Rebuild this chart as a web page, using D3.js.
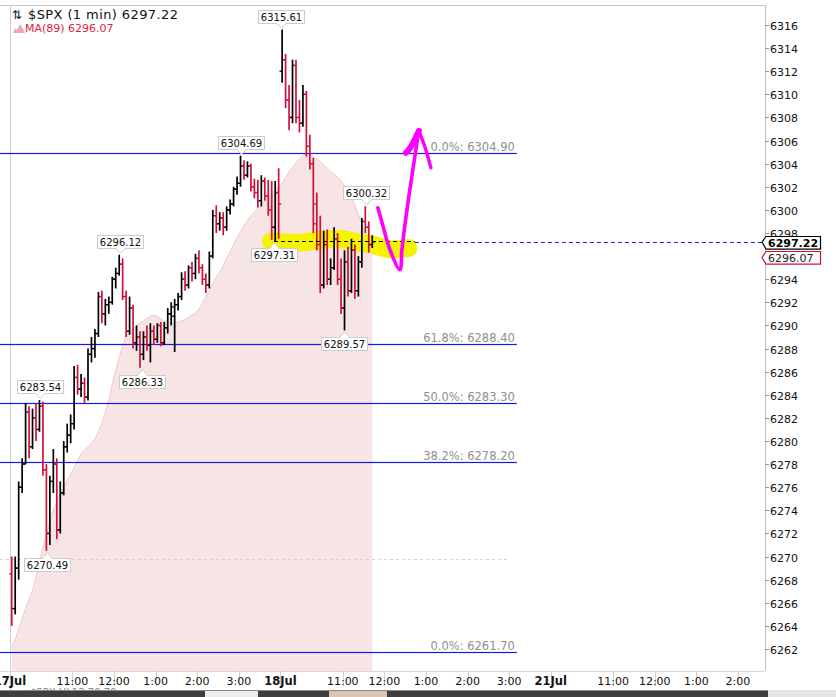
<!DOCTYPE html>
<html><head><meta charset="utf-8">
<script src="https://cdn.jsdelivr.net/npm/d3@7"></script>
<style>body{margin:0;background:#fff;overflow:hidden} svg{display:block}</style>
</head><body><svg id="c" width="836" height="697"></svg>
<script>
// ---------------- DATA ----------------
const symbol = "$SPX (1 min) 6297.22";
const maLegend = "MA(89) 6296.07";
const lastPrice = 6297.22;
const maLast = 6296.07;
const barMinutes = 5; // bars of 5 minutes, index * 5 = minutes after 17 Jul 9:30 (sessions of 390 min)
const opens = [6268.5,6265.5,6269.0,6276.0,6278.0,6282.5,6279.5,6282.0,6281.0,6283.0,
6277.5,6272.0,6276.5,6278.0,6272.3,6275.5,6279.5,6280.5,6281.5,6285.5,
6284.5,6285.0,6283.8,6287.5,6288.0,6289.3,6292.5,6291.0,6291.8,6292.0,
6294.0,6294.5,6295.3,6292.5,6289.5,6291.5,6288.5,6289.0,6287.5,6289.0,
6288.3,6289.5,6288.8,6290.0,6288.5,6289.8,6291.0,6290.8,6291.8,6292.5,
6294.0,6293.5,6295.0,6294.5,6295.8,6295.0,6294.0,6293.5,6296.0,6299.5,
6298.8,6299.3,6298.5,6300.0,6300.5,6301.8,6302.3,6303.8,6303.0,6303.8,
6302.0,6301.5,6300.8,6302.5,6301.2,6300.0,6298.5,6301.5,
6312.0,6313.0,6309.5,6308.0,6312.5,6308.0,6307.5,6310.0,6305.5,6304.0,
6300.5,6297.0,6293.5,6297.0,6294.0,6295.0,6297.5,6294.0,6291.5,6295.5,
6293.0,6296.5,6293.0,6295.5,6299.0,6298.5,6297.0];
const highs = [6270.0,6270.0,6276.5,6278.5,6283.3,6283.0,6282.8,6283.2,6283.54,6283.4,
6278.0,6277.0,6279.3,6278.5,6276.5,6280.0,6281.5,6282.3,6286.5,6286.6,
6285.8,6285.5,6288.0,6289.0,6289.7,6292.9,6293.0,6292.3,6292.5,6294.2,
6295.0,6296.12,6295.8,6293.0,6292.5,6291.8,6290.0,6289.5,6289.5,6290.0,
6290.2,6290.0,6290.2,6290.3,6290.3,6291.5,6292.0,6292.3,6292.8,6294.6,
6294.7,6295.2,6295.5,6296.2,6296.5,6295.3,6294.5,6296.4,6300.0,6300.4,
6299.8,6299.8,6300.3,6300.9,6302.0,6302.9,6304.69,6304.3,6304.2,6304.0,
6302.7,6302.6,6303.0,6302.8,6302.6,6302.5,6302.5,6303.6,
6315.61,6313.5,6310.8,6313.0,6313.0,6309.5,6310.8,6310.3,6306.5,6304.5,
6301.5,6299.5,6298.2,6298.3,6295.8,6298.5,6298.0,6295.8,6296.5,6296.8,
6297.5,6297.0,6296.0,6299.3,6300.32,6299.0,6297.8];
const lows = [6264.0,6265.0,6268.0,6275.5,6278.0,6278.5,6279.3,6280.0,6280.8,6277.0,
6270.49,6271.0,6275.5,6271.5,6272.0,6275.3,6279.0,6279.8,6281.0,6284.0,
6283.8,6283.3,6283.5,6286.8,6287.2,6289.0,6290.2,6290.0,6291.0,6291.8,
6293.2,6294.3,6292.2,6289.0,6289.2,6288.0,6287.8,6286.33,6287.0,6287.8,
6286.8,6288.3,6288.5,6288.2,6288.3,6289.3,6290.0,6287.7,6291.3,6292.2,
6293.0,6293.2,6293.8,6294.0,6294.5,6293.5,6292.8,6293.2,6295.8,6298.0,
6298.2,6297.8,6298.2,6299.6,6300.3,6301.3,6302.0,6302.6,6302.8,6301.6,
6301.0,6300.2,6300.3,6300.8,6299.5,6297.4,6297.31,6297.5,
6311.0,6308.8,6306.9,6307.5,6307.5,6306.7,6307.2,6304.6,6303.5,6298.0,
6296.5,6292.8,6293.2,6293.5,6293.5,6294.8,6293.5,6291.0,6289.57,6292.5,
6292.8,6292.3,6292.5,6295.0,6298.0,6296.3,6296.7];
const closes = [6265.5,6269.0,6276.0,6278.0,6282.5,6279.5,6282.0,6281.0,6283.0,6277.5,
6272.0,6276.5,6278.0,6272.3,6275.5,6279.5,6280.5,6281.5,6285.5,6284.5,
6285.0,6283.8,6287.5,6288.0,6289.3,6292.5,6291.0,6291.8,6292.0,6294.0,
6294.5,6295.3,6292.5,6289.5,6291.5,6288.5,6289.0,6287.5,6289.0,6288.3,
6289.5,6288.8,6290.0,6288.5,6289.8,6291.0,6291.6,6291.8,6292.5,6294.0,
6293.5,6295.0,6294.5,6295.8,6295.0,6294.0,6293.5,6296.0,6299.5,6298.8,
6299.3,6298.5,6300.0,6300.5,6301.8,6302.3,6303.8,6303.0,6303.8,6302.0,
6301.5,6300.8,6302.5,6301.2,6300.0,6298.5,6301.5,6300.5,
6313.0,6309.5,6308.0,6312.5,6308.0,6307.5,6310.0,6305.5,6304.0,6298.8,
6297.0,6293.5,6297.0,6294.0,6295.0,6297.5,6294.0,6291.5,6295.5,6293.0,
6296.5,6293.0,6295.5,6299.0,6298.5,6297.0,6297.22];
const maValues = [6262.2,6262.8,6263.7,6264.6,6265.5,6266.3,6267.1,6268.2,6269.5,6270.8,
6271.9,6273.0,6274.0,6274.8,6275.4,6276.0,6276.6,6277.1,6277.7,6278.3,
6278.9,6279.2,6279.5,6279.8,6280.2,6280.8,6281.5,6282.5,6283.6,6284.9,
6286.1,6287.2,6288.3,6289.0,6289.4,6289.7,6290.0,6290.2,6290.4,6290.6,
6290.8,6290.9,6290.8,6290.6,6290.4,6290.3,6290.2,6290.2,6290.3,6290.4,
6290.5,6290.7,6290.9,6291.1,6291.4,6291.9,6292.5,6293.0,6293.6,6294.2,
6294.6,6295.2,6295.8,6296.4,6297.0,6297.6,6298.1,6298.6,6299.1,6299.5,
6299.8,6300.1,6300.4,6300.8,6301.1,6301.4,6301.7,6302.0,
6302.3,6302.8,6303.3,6303.7,6304.1,6304.4,6304.7,6304.9,6304.8,6304.6,
6304.4,6304.2,6303.9,6303.6,6303.3,6303.1,6302.8,6302.5,6302.1,6301.7,
6301.1,6300.4,6299.6,6298.8,6297.9,6297.0,6296.07];

const fibLevels = [6304.90, 6288.40, 6283.30, 6278.20, 6261.70];
const fibNames = ["0.0%", "61.8%", "50.0%", "38.2%", "0.0%"];
const fibEndMinute = 731;
const greyLevel = 6269.8, greyEndMinute = 721;

const markerMinutes = [43.3, 53.4, 158.6, 190.3, 333.1, 380.7, 390.8, 481.6, 513.3];
const markerPrices  = [6283.54, 6270.49, 6296.12, 6286.33, 6304.69, 6297.31, 6315.61, 6289.57, 6300.32];
const markerAbove   = [true, false, true, false, true, false, true, false, true];

const userLine = {price: 6297.31, from: 380.7, to: 584};

const yTickValues = [6262,6264,6266,6268,6270,6272,6274,6276,6278,6280,6282,6284,6286,6288,
  6290,6292,6294,6296,6298,6300,6302,6304,6306,6308,6310,6312,6314,6316];
const dayLabels = ["17Jul", "18Jul", "21Jul"];
const sessionMinutes = 390;
const hourLabels = ["11:00", "12:00", "1:00", "2:00", "3:00"];
const hourOffsets = [90, 150, 210, 270, 330];

// hand-drawn annotations, in [minute, price]
const yellowStroke = [[376.4,6297.25],[418.2,6297.16],[444.1,6297.37],[473.0,6297.50],[497.5,6297.24],[522.0,6297.0],[548.0,6296.60],[574.5,6296.70]];
const magentaMain = [[530.6,6300.18],[537.9,6298.63],[548.0,6296.55],[562.4,6294.82],[565.3,6296.55],[571.0,6299.32],[578.2,6302.34],[585.4,6305.20],[589.8,6306.84]];
const magentaLeft = [[589.8,6306.84],[578.2,6305.46],[571.0,6304.94]];
const magentaRight = [[589.8,6306.84],[598.4,6305.46],[607.1,6303.64]];

// ---------------- CHART ----------------
const svg = d3.select("#c");
const plotLeft = 10, plotRight = 765, plotTop = 5, plotBottom = 671;
const x = d3.scaleLinear().domain([0, 1089]).range([plotLeft, plotRight]);
const y = d3.scaleLinear().domain([6262, 6316]).range([649, 25]);
const RED = "#d0103a";
const DV = "DejaVu Sans, Verdana, sans-serif";

svg.append("rect").attr("width",836).attr("height",697).attr("fill","#fff");

// borders
svg.append("line").attr("x1",0).attr("x2",plotRight).attr("y1",plotTop+0.5).attr("y2",plotTop+0.5).attr("stroke","#c8c8c8");
svg.append("line").attr("x1",plotLeft+0.5).attr("x2",plotLeft+0.5).attr("y1",plotTop).attr("y2",691).attr("stroke","#d0d0d0");
svg.append("line").attr("x1",plotRight+0.5).attr("x2",plotRight+0.5).attr("y1",plotTop).attr("y2",plotBottom).attr("stroke","#c0c0c0");
svg.append("line").attr("x1",0).attr("x2",plotRight).attr("y1",plotBottom+0.5).attr("y2",plotBottom+0.5).attr("stroke","#d8d8d8");

// MA area
const maIdx = d3.range(maValues.length);
svg.append("path").datum(maIdx)
  .attr("d", d3.area().x(k => x(k*barMinutes+2.5)).y0(plotBottom).y1(k => y(maValues[k])))
  .attr("fill","#f7e4e4");
svg.append("path").datum(maIdx)
  .attr("d", d3.line().x(k => x(k*barMinutes+2.5)).y(k => y(maValues[k])))
  .attr("fill","none").attr("stroke","#f0caca").attr("stroke-width",1);

// fib lines
fibLevels.forEach((v,i) => {
  const yy = Math.round(y(v)) + 0.5;
  svg.append("rect").attr("x",0).attr("width",x(fibEndMinute)).attr("y",yy-0.6).attr("height",1.2)
    .attr("fill","#1818e8");
  svg.append("text").attr("x",x(fibEndMinute)-2).attr("y",yy-3).attr("text-anchor","end")
    .attr("font-family",DV).attr("font-size",11.5).attr("fill","#8f8f8f")
    .text(fibNames[i] + ": " + v.toFixed(2));
});
// grey dashed
svg.append("line").attr("x1",0).attr("x2",x(greyEndMinute)).attr("y1",Math.round(y(greyLevel))+0.5).attr("y2",Math.round(y(greyLevel))+0.5)
  .attr("stroke","#d4d4d4").attr("stroke-dasharray","3,3");

// yellow highlight
svg.append("path").datum(yellowStroke)
  .attr("d", d3.line().x(d=>x(d[0])).y(d=>y(d[1])).curve(d3.curveCatmullRom))
  .attr("fill","none").attr("stroke","#f4f400").attr("stroke-width",18)
  .attr("stroke-linecap","round").attr("stroke-linejoin","round");

// bars
const bars = opens.map((o,k)=>({m:k*barMinutes+2.5, o, h:highs[k], l:lows[k], c:closes[k]}));
const gb = svg.append("g");
bars.forEach(b => {
  const col = b.c >= b.o ? "#000" : RED;
  const cx = x(b.m);
  gb.append("line").attr("x1",cx).attr("x2",cx).attr("y1",y(b.h)).attr("y2",y(b.l)).attr("stroke",col).attr("stroke-width",1.7);
  gb.append("line").attr("x1",cx-2.6).attr("x2",cx).attr("y1",y(b.o)).attr("y2",y(b.o)).attr("stroke",col).attr("stroke-width",1.3);
  gb.append("line").attr("x1",cx).attr("x2",cx+2.6).attr("y1",y(b.c)).attr("y2",y(b.c)).attr("stroke",col).attr("stroke-width",1.3);
});

// user horizontal (black dashed) and last price line (blue dashed)
svg.append("line").attr("x1",x(userLine.from)).attr("x2",x(userLine.to))
  .attr("y1",Math.round(y(userLine.price))+0.5).attr("y2",Math.round(y(userLine.price))+0.5)
  .attr("stroke","#000").attr("stroke-dasharray","4,3");
svg.append("line").attr("x1",x(userLine.to)).attr("x2",plotRight-3)
  .attr("y1",Math.round(y(lastPrice))+0.5).attr("y2",Math.round(y(lastPrice))+0.5)
  .attr("stroke","#1a1aff").attr("stroke-dasharray","4,3");

// magenta hand-drawn arrow
const mline = d3.line().x(d=>x(d[0])).y(d=>y(d[1])).curve(d3.curveCatmullRom);
svg.append("path").datum(magentaMain).attr("d",mline).attr("fill","none").attr("stroke","#ff00ff")
  .attr("stroke-width",3.6).attr("stroke-linecap","round").attr("stroke-linejoin","round");
svg.append("path").datum(magentaLeft).attr("d",mline).attr("fill","none").attr("stroke","#ff00ff")
  .attr("stroke-width",6).attr("stroke-linecap","round").attr("stroke-linejoin","round");
svg.append("path").datum(magentaRight).attr("d",mline).attr("fill","none").attr("stroke","#ff00ff")
  .attr("stroke-width",3.4).attr("stroke-linecap","round").attr("stroke-linejoin","round");

// high/low markers
markerPrices.forEach((p,i) => {
  const cx = Math.round(x(markerMinutes[i])), py = y(p), up = markerAbove[i];
  const bw = 46, bh = 13;
  const by = up ? py - 7 - bh : py + 7;
  const g = svg.append("g");
  g.append("rect").attr("x",cx-bw/2+0.5).attr("y",Math.round(by)+0.5).attr("width",bw).attr("height",bh)
    .attr("fill","#fff").attr("stroke","#cccccc");
  const ty = up ? Math.round(by)+bh+0.5 : Math.round(by)+0.5;
  const tip = up ? py-1.5 : py+1.5;
  g.append("path").attr("d",`M${cx-4.5},${ty}L${cx+0.5},${tip}L${cx+5.5},${ty}`)
    .attr("fill","#fff").attr("stroke","#cccccc");
  g.append("line").attr("x1",cx-3.5).attr("x2",cx+4.5).attr("y1",ty).attr("y2",ty).attr("stroke","#fff").attr("stroke-width",1.2);
  g.append("text").attr("x",cx+0.5).attr("y",Math.round(by)+10.5).attr("text-anchor","middle")
    .attr("font-family",DV).attr("font-size",10).attr("fill","#111").text(p.toFixed(2));
});

// title / legend
svg.append("text").attr("x",12).attr("y",19).attr("font-family",DV).attr("font-size",12).attr("fill","#111").text("⇅");
svg.append("text").attr("x",28).attr("y",19).attr("font-family",DV).attr("font-size",13).attr("letter-spacing",0.4)
  .attr("fill","#111").text(symbol);
svg.append("path").attr("d","M13,33L15,28L17,30L20,24L23,29L25,33Z").attr("fill","#f2a6b4");
svg.append("text").attr("x",25).attr("y",32).attr("font-family",DV).attr("font-size",11)
  .attr("fill","#dc1e46").text(maLegend);

// right axis
const ya = svg.append("g");
yTickValues.forEach(v => {
  const yy = Math.round(y(v)) + 0.5;
  ya.append("line").attr("x1",plotRight).attr("x2",plotRight+4).attr("y1",yy).attr("y2",yy).attr("stroke","#999");
  ya.append("text").attr("x",plotRight+5).attr("y",yy+4).attr("font-family",DV).attr("font-size",11)
    .attr("fill","#111").text(v);
});
// price tags
function tag(cy, txt, stroke, bold, tcol){
  const t = Math.round(cy - 6.4)+0.5, b = t + 12.6;
  svg.append("path").attr("d",`M${plotRight-3},${cy}L${plotRight+1},${t}L820.5,${t}L820.5,${b}L${plotRight+1},${b}Z`)
    .attr("fill","#fff").attr("stroke",stroke).attr("stroke-width",1.2);
  svg.append("text").attr("x",plotRight+3).attr("y",b-2.2).attr("font-family",DV).attr("font-size",11)
    .attr("font-weight",bold?"bold":"normal").attr("fill",tcol).text(txt);
}
const py0 = y(lastPrice);
tag(py0, lastPrice.toFixed(2), "#000", true, "#000");
const pyMa = Math.max(y(maLast), py0 + 15.5);
tag(pyMa, maLast.toFixed(2), RED, false, "#222");

// x axis
const xa = svg.append("g");
dayLabels.forEach((d,di) => {
  const base = di*sessionMinutes;
  const dx = x(base);
  xa.append("line").attr("x1",Math.round(dx)+0.5).attr("x2",Math.round(dx)+0.5).attr("y1",plotBottom).attr("y2",plotBottom+15).attr("stroke","#d0d0d0");
  xa.append("text").attr("x",dx).attr("y",685).attr("text-anchor","middle").attr("font-family",DV)
    .attr("font-size",11.5).attr("font-weight","bold").attr("fill","#111").text(d);
  hourLabels.forEach((h,hi) => {
    const hx = x(base + hourOffsets[hi]);
    if (hx > plotRight - 10) return;
    xa.append("line").attr("x1",Math.round(hx)+0.5).attr("x2",Math.round(hx)+0.5).attr("y1",plotBottom).attr("y2",plotBottom+15).attr("stroke","#d0d0d0");
    xa.append("text").attr("x",hx).attr("y",685).attr("text-anchor","middle").attr("font-family",DV)
      .attr("font-size",11).attr("fill","#111").text(h);
  });
});

// bottom window strip
svg.append("text").attr("x",30).attr("y",696).attr("font-family",DV).attr("font-size",10).attr("fill","#888").text("$SPX HL13.70 70");
svg.append("rect").attr("x",0).attr("y",691).attr("width",768).attr("height",6).attr("fill","#3e3e3e");
svg.append("rect").attr("x",0).attr("y",690).attr("width",768).attr("height",1).attr("fill","#888");
svg.append("rect").attr("x",205).attr("y",691).attr("width",53).attr("height",6).attr("fill","#ececec");
svg.append("rect").attr("x",329).attr("y",691).attr("width",58).attr("height",6).attr("fill","#d9c6b6");
svg.append("rect").attr("x",768).attr("y",690).attr("width",68).attr("height",7).attr("fill","#e4e4e4");
</script></body></html>
